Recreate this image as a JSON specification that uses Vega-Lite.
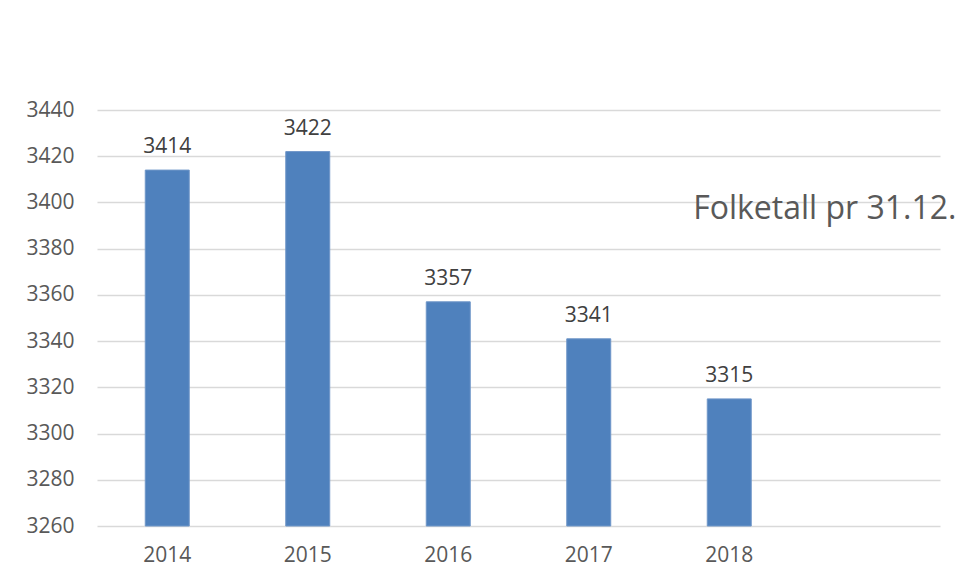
{
  "$schema": "https://vega.github.io/schema/vega-lite/v6.json",
  "autosize": "none",
  "width": 843,
  "height": 416,
  "padding": {"left": 97, "top": 110, "right": 24, "bottom": 52},
  "background": "white",
  "config": {
    "view": {"stroke": null},
    "font": "Open Sans"
  },
  "data": {
    "values": [
      {"year": "2014", "folketall": 3414},
      {"year": "2015", "folketall": 3422},
      {"year": "2016", "folketall": 3357},
      {"year": "2017", "folketall": 3341},
      {"year": "2018", "folketall": 3315}
    ]
  },
  "encoding": {
    "x": {
      "field": "year",
      "type": "nominal",
      "scale": {
        "domain": ["2014", "2015", "2016", "2017", "2018", " "],
        "paddingInner": 0.687,
        "paddingOuter": 0.3435
      },
      "axis": {
        "title": null,
        "domain": false,
        "ticks": false,
        "labelAngle": 0,
        "labelFont": "Open Sans",
        "labelFontSize": 21,
        "labelColor": "#595959",
        "labelPadding": 18,
        "labelBaseline": "top"
      }
    },
    "y": {
      "field": "folketall",
      "type": "quantitative",
      "scale": {"domain": [3260, 3440], "zero": false, "nice": false},
      "axis": {
        "title": null,
        "domain": false,
        "ticks": false,
        "format": "d",
        "values": [3260, 3280, 3300, 3320, 3340, 3360, 3380, 3400, 3420, 3440],
        "grid": true,
        "gridColor": "#d9d9d9",
        "gridWidth": 1.5,
        "labelFont": "Open Sans",
        "labelFontSize": 21,
        "labelColor": "#595959",
        "labelPadding": 23
      }
    }
  },
  "layer": [
    {
      "mark": {"type": "bar", "color": "#4f81bd", "stroke": "#6f96c8", "strokeWidth": 1},
      "encoding": {"y2": {"datum": 3260}}
    },
    {
      "mark": {
        "type": "text",
        "baseline": "alphabetic",
        "dy": -17,
        "font": "Open Sans",
        "fontSize": 21,
        "color": "#404040"
      },
      "encoding": {"text": {"field": "folketall", "type": "quantitative", "format": "d"}}
    },
    {
      "data": {"values": [{"year": " ", "pos": 3393, "label": "Folketall pr 31.12."}]},
      "mark": {
        "type": "text",
        "align": "center",
        "baseline": "alphabetic",
        "dx": -45,
        "font": "Open Sans",
        "fontSize": 32,
        "color": "#595959"
      },
      "encoding": {
        "y": {"field": "pos", "type": "quantitative"},
        "text": {"field": "label", "type": "nominal"}
      }
    }
  ]
}
